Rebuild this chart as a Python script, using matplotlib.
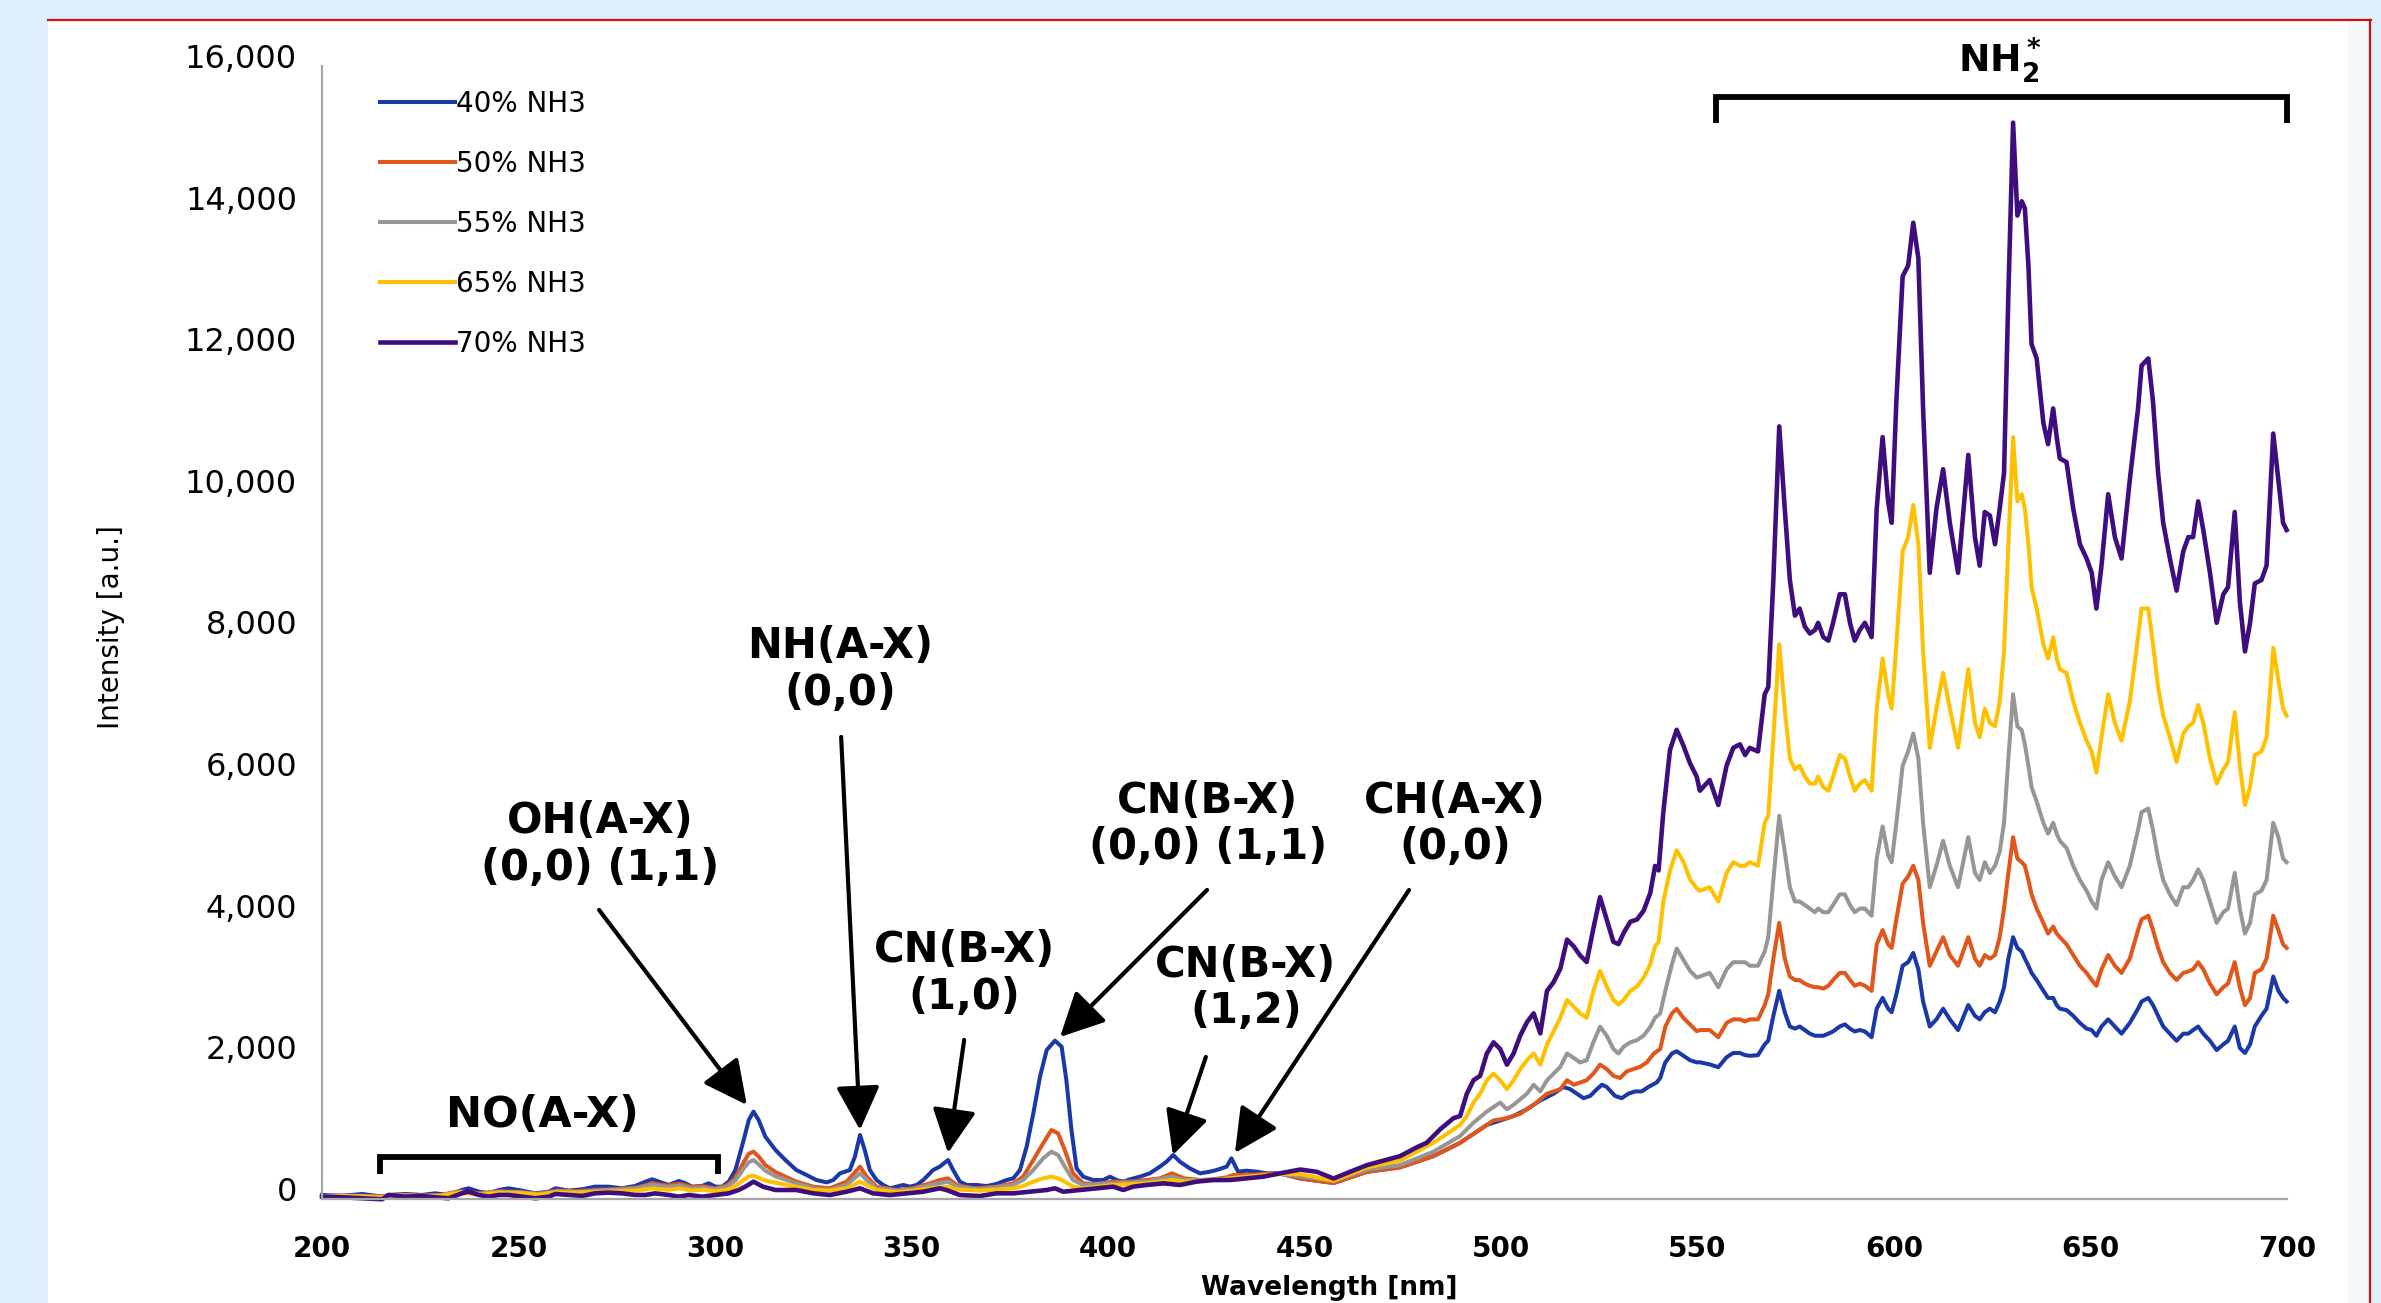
import numpy as np
import matplotlib
matplotlib.use("Agg")
import matplotlib.pyplot as plt
from matplotlib.patches import Rectangle
from matplotlib.lines import Line2D
from matplotlib.transforms import ScaledTranslation

plt.rcParams['font.family'] = ['DejaVu Sans']
plt.rcParams['mathtext.fontset'] = 'dejavusans'

# ---------------- data ----------------
series_labels = ["40% NH3", "50% NH3", "55% NH3", "65% NH3", "70% NH3"]
series_colors = ["#1A38A8", "#E0561B", "#969696", "#FFC000", "#3F0E7E"]

x_ticks = [200, 250, 300, 350, 400, 450, 500, 550, 600, 650, 700]
y_ticks = [0, 2000, 4000, 6000, 8000, 10000, 12000, 14000, 16000]

# 40% NH3 (below 550 nm)
wl_40_low = [200.0, 205.1, 210.2, 215.3, 217.0, 221.2, 225.4, 228.8, 232.2, 235.6, 237.3, 239.9, 242.4, 245.0, 247.5,
             250.9, 254.3, 257.7, 259.4, 262.8, 266.2, 269.5, 272.9, 276.3, 279.7, 282.3, 284.0, 285.7, 288.2, 290.8,
             292.5, 294.1, 296.7, 298.4, 300.1, 301.8, 303.5, 305.2, 307.3, 308.6, 309.8, 311.1, 312.8, 315.4, 317.9,
             320.7, 323.3, 325.8, 328.4, 330.1, 331.8, 334.3, 335.6, 336.9, 338.1, 339.4, 341.1, 342.8, 344.5, 346.2,
             347.9, 349.6, 351.3, 353.0, 355.5, 357.2, 359.3, 360.6, 362.3, 364.0, 366.5, 369.1, 371.6, 374.2, 375.9,
             377.6, 379.3, 381.0, 382.7, 384.4, 386.5, 388.2, 389.4, 390.7, 392.0, 393.7, 396.2, 398.8, 400.5, 402.2,
             403.9, 405.6, 408.1, 410.6, 413.2, 414.9, 416.6, 418.3, 420.8, 423.4, 425.9, 427.6, 430.2, 431.4, 433.1,
             435.2, 437.8, 440.3, 443.7,
             448.9, 457.4, 465.9, 474.3, 482.8, 489.6, 493.0, 496.4, 499.8, 503.2, 506.6, 510.0, 513.4, 515.9, 517.6,
             519.3, 521.0, 522.7, 524.4, 525.7, 526.9, 529.0, 530.7, 532.4, 534.1, 535.8, 537.5, 539.6, 540.5, 541.8,
             543.5, 544.7, 546.4, 548.1, 549.8]
int_40_low = [57, 43, 71, 33, 57, 71, 57, 80, 57, 127, 151, 104, 80, 127, 151,
              118, 80, 104, 151, 118, 137, 174, 174, 151, 184, 245, 278, 245, 198, 254,
              221, 174, 184, 221, 174, 174, 245, 410, 834, 1116, 1234, 1116, 881, 692, 551,
              409, 339, 268, 235, 268, 362, 409, 598, 904, 692, 409, 268, 198, 151, 174,
              198, 174, 198, 268, 409, 457, 551, 409, 245, 198, 198, 183, 212, 268, 292,
              409, 739, 1210, 1728, 2104, 2236, 2151, 1681, 974, 433, 315, 268, 268, 315, 268,
              245, 278, 315, 362, 457, 527, 621, 527, 433, 362, 386, 409, 457, 574, 386,
              400, 386, 362, 362,
              290, 226, 384, 447, 605, 794, 920, 1046, 1109, 1172, 1267, 1393, 1487, 1582, 1551,
              1487, 1424, 1456, 1551, 1614, 1582, 1456, 1424, 1487, 1519, 1519, 1582, 1645, 1708, 1929,
              2055, 2087, 2023, 1960, 1929]

# 50% NH3 (below 550 nm)
wl_50_low = [200, 205, 210, 215, 220, 225, 230, 235, 240, 245, 250, 255, 260, 265, 270, 275, 280, 284, 288, 291,
             294, 297, 300, 303, 305.2, 307.3, 308.6, 309.8, 311.1, 312.8, 315.4,
             320.7, 325.0, 329.2, 333.5, 336.9, 338.6, 341.1, 346.2, 350.4, 354.7, 357.2, 359.3, 361.5, 365.7, 371.6,
             375.9, 378.4, 381.0, 383.5, 385.6, 387.3, 389.0, 391.1, 393.7, 397.1, 401.3, 405.6, 409.8, 413.2, 416.3,
             419.3, 423.4, 426.8, 430.2, 431.9, 435.2, 439.5, 443.7,
             448.9, 457.4, 465.9, 474.3, 482.8, 489.6, 493.0, 496.4, 498.1, 501.5, 504.9, 508.3, 511.7, 515.1, 516.8,
             518.5, 520.1, 521.8, 523.5, 525.2, 526.9, 528.6, 530.3, 532.0, 533.7, 535.4, 537.1, 538.9, 540.5, 541.8,
             543.5, 544.7, 546.4, 548.1, 549.8]
int_50_low = [40, 50, 45, 35, 60, 50, 55, 110, 80, 110, 100, 75, 120, 110, 130, 140, 160, 220, 190, 215,
              170, 180, 150, 190, 300, 520, 640, 669, 600, 480, 380,
              245, 174, 151, 245, 457, 315, 174, 127, 151, 221, 268, 292, 198, 151, 174,
              221, 315, 551, 786, 974, 927, 692, 362, 221, 212, 245, 245, 268, 292, 362,
              292, 268, 278, 306, 339, 339, 353, 362,
              290, 226, 384, 447, 605, 794, 920, 1046, 1109, 1141, 1204, 1330, 1487, 1551, 1677,
              1613, 1645, 1677, 1771, 1897, 1834, 1740, 1708, 1803, 1834, 1866, 1929, 2055, 2118, 2433,
              2622, 2685, 2559, 2464, 2370]

# 55% NH3 (below 550 nm)
wl_55_low = [200, 205, 210, 215, 220, 225, 230, 235, 240, 245, 250, 255, 260, 265, 270, 275, 280, 284, 288, 291,
             294, 297, 300, 303, 305.2, 307.3, 308.6, 309.8, 311.1, 312.8, 315.4,
             320.7, 325.0, 329.2, 333.5, 336.9, 338.6, 341.1, 346.2, 350.4, 354.7, 359.3, 361.5, 367.4, 375.9, 378.4,
             381.0, 383.5, 385.6, 387.3, 389.0, 391.1, 393.7, 401.3, 409.8, 416.3, 419.3, 426.8, 435.2, 443.7,
             448.9, 457.4, 465.9, 474.3, 482.8, 489.6, 493.0, 496.4, 498.1, 499.8, 501.5, 503.2, 506.6, 508.3, 510.0,
             511.7, 513.4, 515.1, 516.8, 518.5, 520.1, 521.8, 523.5, 525.2, 526.9, 528.6, 529.9, 531.2, 532.9, 534.6,
             536.3, 538.0, 539.2, 540.5, 541.8, 543.5, 544.7, 546.4, 548.1, 549.8]
int_55_low = [35, 45, 40, 30, 55, 45, 50, 100, 70, 100, 95, 70, 110, 100, 120, 130, 150, 200, 170, 190,
              150, 160, 140, 170, 260, 430, 520, 550, 490, 400, 320,
              221, 151, 127, 198, 362, 268, 151, 118, 136, 198, 245, 174, 136, 198, 268,
              409, 574, 668, 621, 457, 268, 198, 221, 245, 315, 268, 268, 315, 353,
              321, 258, 416, 479, 668, 889, 1078, 1235, 1298, 1361, 1267, 1330, 1487, 1613, 1519,
              1677, 1771, 1866, 2055, 1992, 1929, 1960, 2213, 2433, 2307, 2118, 2055, 2150, 2213, 2244,
              2307, 2433, 2559, 2622, 2938, 3316, 3537, 3379, 3222, 3127]

# 65% NH3 (below 550 nm)
wl_65_low = [200, 205, 210, 215, 220, 225, 230, 235, 240, 245, 250, 255, 260, 265, 270, 275, 280, 284, 288, 291,
             294, 297, 300, 303, 305.2, 307.3, 308.6, 309.8, 311.1, 312.8, 315.4,
             320.7, 325.0, 329.2, 333.5, 336.9, 338.6, 341.1, 346.2, 350.4, 354.7, 359.3, 361.5, 367.4, 375.9, 378.4,
             381.0, 383.5, 385.6, 387.3, 389.0, 391.1, 393.7, 401.3, 409.8, 416.3, 419.3, 426.8, 435.2, 443.7,
             448.9, 457.4, 465.9, 474.3, 478.6, 482.8, 486.2, 489.6, 491.3, 493.0, 494.7, 496.4, 498.1, 499.8, 501.5,
             503.2, 504.9, 506.6, 508.3, 510.0, 511.7, 513.4, 515.1, 516.8, 518.5, 520.1, 521.8, 523.5, 525.2, 526.9,
             528.6, 529.9, 531.2, 532.9, 534.6, 536.3, 538.0, 539.2, 540.1, 541.3, 543.0, 544.7, 546.4, 548.1, 549.8]
int_65_low = [30, 40, 35, 25, 50, 40, 45, 90, 60, 90, 85, 60, 95, 90, 100, 110, 120, 150, 130, 150,
              120, 130, 110, 130, 180, 270, 320, 330, 300, 260, 230,
              174, 127, 118, 151, 245, 198, 127, 99, 118, 151, 174, 136, 118, 151, 183,
              245, 292, 315, 292, 245, 174, 151, 198, 221, 268, 245, 268, 315, 353,
              353, 258, 447, 542, 668, 794, 920, 1046, 1172, 1361, 1487, 1677, 1771, 1677, 1551,
              1677, 1834, 1960, 2055, 1897, 2181, 2370, 2559, 2811, 2717, 2622, 2559, 2938, 3221, 3001,
              2811, 2748, 2811, 2938, 3001, 3127, 3316, 3568, 3631, 4199, 4640, 4924, 4766, 4514, 4388]

# 70% NH3 (below 550 nm)
wl_70_low = [200.0, 205.1, 210.2, 215.3, 217.0, 221.2, 225.4, 228.8, 232.2, 235.6, 237.3, 239.9, 242.4, 245.0, 247.5,
             250.9, 254.3, 257.7, 259.4, 262.8, 266.2, 269.5, 272.9, 276.3, 279.7, 282.3, 284.8, 288.2, 290.8, 293.3,
             296.7, 300.1, 303.5, 306.0, 307.7, 309.8, 312.2, 315.4,
             320.7, 325.0, 329.2, 333.5, 336.9, 340.2, 344.5, 348.7, 353.0, 357.2, 358.9, 362.3, 367.4, 371.6, 375.9,
             380.1, 384.4, 386.5, 388.6, 392.8, 397.1, 401.3, 403.9, 406.4, 409.8, 414.1, 418.3, 422.5, 426.8, 431.0,
             435.2, 439.5, 443.7,
             448.9, 453.1, 457.4, 461.6, 465.9, 470.1, 474.3, 478.6, 481.1, 484.5, 487.9, 489.6, 491.3, 493.0, 494.7,
             496.4, 498.1, 499.8, 501.5, 503.2, 504.9, 506.6, 508.3, 510.0, 511.7, 513.4, 515.1, 516.8, 518.5, 520.1,
             521.8, 523.5, 525.2, 526.9, 528.6, 529.9, 531.2, 532.9, 534.6, 536.3, 538.0, 539.2, 540.1, 541.3, 543.0,
             544.7, 546.4, 548.1, 549.8]
int_70_low = [33, 24, 10, -4, 57, 33, 43, 24, 10, 80, 104, 57, 33, 57, 57,
              33, 10, 33, 71, 57, 43, 80, 90, 80, 57, 57, 80, 57, 33, 57,
              33, 57, 80, 127, 174, 245, 174, 127,
              127, 80, 56, 103, 151, 80, 56, 80, 103, 151, 127, 56, 42, 80, 80,
              103, 127, 151, 103, 127, 151, 174, 127, 174, 198, 221, 198, 245, 268, 268,
              292, 315, 362,
              416, 384, 289, 384, 479, 542, 605, 731, 794, 983, 1141, 1172, 1487, 1677, 1740,
              2055, 2213, 2118, 1897, 2055, 2307, 2496, 2622, 2339, 2938, 3064, 3253, 3663, 3568, 3442,
              3347, 3820, 4262, 3946, 3631, 3600, 3757, 3915, 3946, 4072, 4325, 4703, 4640, 5460, 6342,
              6626, 6405, 6153, 5964]

# NH2* band region (550-700 nm), common wavelength grid
wl_high = [550.6, 553.1, 555.3, 557.4, 559.1, 560.8, 562.1, 563.3, 565.4, 567.1, 568.0, 569.3, 570.8, 572.2, 573.5,
           574.8, 576.0, 577.3, 578.6, 579.9, 580.7, 582.0, 583.3, 584.5, 586.2, 587.5, 588.8, 590.0, 591.3, 592.6,
           594.3, 595.6, 597.1, 598.5, 599.4, 600.6, 602.2, 603.6, 604.9, 606.2, 607.4, 609.1, 610.8, 612.5, 614.2,
           616.3, 618.9, 620.6, 621.8, 623.1,
           624.4, 625.7, 626.9, 628.0, 629.1, 630.3, 631.4, 632.5, 633.3, 634.2, 635.0, 636.3, 638.0, 639.2, 640.5,
           641.4, 642.2, 643.9, 645.6, 647.3, 649.0, 650.3, 651.5, 652.8, 654.5, 656.2, 657.9, 660.0, 662.1, 663.0,
           664.7, 665.9, 667.2, 668.5, 670.2, 671.9, 673.6, 674.9, 676.1, 677.4, 678.7, 680.4, 682.1, 683.8, 685.0,
           686.7, 688.0, 689.3, 690.6, 691.8, 693.5, 694.8, 696.5, 697.8, 699.0, 699.9]
int_40_high = [1931, 1901, 1861, 2002, 2062, 2062, 2032, 2022, 2032, 2184, 2234, 2587, 2940, 2638, 2436,
               2406, 2436, 2386, 2335, 2305, 2305, 2305, 2335, 2366, 2436, 2466, 2406, 2366, 2386, 2366,
               2285, 2688, 2840, 2688, 2638, 2890, 3294, 3344, 3475, 3243, 2789, 2436, 2537, 2688, 2537,
               2386, 2739, 2587, 2537, 2638,
               2688, 2637, 2789, 2991, 3394, 3697, 3546, 3495, 3394, 3294, 3193, 3092, 2941, 2839, 2839,
               2738, 2688, 2668, 2587, 2486, 2406, 2386, 2305, 2436, 2537, 2436, 2335, 2486, 2688, 2789,
               2839, 2738, 2587, 2436, 2335, 2234, 2335, 2335, 2386, 2436, 2335, 2234, 2103, 2184, 2234,
               2436, 2133, 2062, 2184, 2436, 2587, 2688, 3142, 2941, 2839, 2789]
int_50_high = [2386, 2386, 2285, 2487, 2537, 2537, 2507, 2537, 2537, 2739, 2890, 3394, 3899, 3394, 3142,
               3092, 3092, 3041, 3011, 2991, 2991, 2971, 3011, 3092, 3193, 3193, 3092, 3011, 3041, 3011,
               2940, 3596, 3798, 3596, 3546, 3949, 4454, 4555, 4706, 4504, 3899, 3294, 3495, 3697, 3445,
               3294, 3697, 3394, 3294, 3445,
               3394, 3445, 3697, 4101, 4605, 5110, 4807, 4756, 4706, 4504, 4302, 4101, 3899, 3748, 3848,
               3748, 3697, 3596, 3445, 3294, 3193, 3092, 3011, 3243, 3445, 3294, 3193, 3394, 3798, 3949,
               4000, 3798, 3546, 3344, 3193, 3092, 3193, 3213, 3243, 3344, 3243, 3042, 2890, 2991, 3042,
               3344, 2991, 2738, 2839, 3193, 3243, 3394, 4000, 3798, 3596, 3546]
int_55_high = [3142, 3193, 2991, 3243, 3344, 3344, 3344, 3294, 3294, 3495, 3697, 4504, 5412, 4908, 4403,
               4201, 4201, 4151, 4101, 4050, 4101, 4050, 4050, 4151, 4302, 4302, 4151, 4050, 4101, 4101,
               4000, 4807, 5261, 4857, 4756, 5312, 6119, 6321, 6573, 6220, 5312, 4403, 4706, 5059, 4706,
               4403, 5110, 4605, 4504, 4756,
               4605, 4706, 4908, 5312, 6220, 7128, 6674, 6623, 6421, 6119, 5816, 5614, 5312, 5160, 5312,
               5160, 5059, 4958, 4706, 4504, 4353, 4201, 4101, 4504, 4756, 4555, 4403, 4706, 5211, 5463,
               5513, 5211, 4807, 4504, 4302, 4151, 4403, 4403, 4504, 4655, 4504, 4201, 3899, 4050, 4101,
               4605, 4101, 3748, 3899, 4302, 4353, 4504, 5312, 5110, 4807, 4756]
int_65_high = [4353, 4403, 4201, 4605, 4756, 4706, 4706, 4756, 4706, 5312, 5412, 6522, 7834, 6926, 6220,
               6068, 6119, 5967, 5866, 5866, 5967, 5816, 5766, 5967, 6270, 6220, 5967, 5766, 5866, 5917,
               5766, 6926, 7632, 7128, 6926, 7834, 9146, 9348, 9801, 9247, 7733, 6371, 6926, 7430, 6926,
               6371, 7481, 6724, 6522, 6926,
               6724, 6674, 7027, 7733, 9247, 10760, 9852, 9953, 9751, 9247, 8641, 8339, 7834, 7632, 7935,
               7632, 7481, 7430, 7027, 6724, 6472, 6320, 6018, 6522, 7128, 6724, 6472, 7027, 7935, 8339,
               8339, 7834, 7229, 6825, 6522, 6169, 6573, 6674, 6724, 6976, 6724, 6220, 5866, 6068, 6169,
               6876, 6119, 5564, 5816, 6270, 6320, 6522, 7784, 7329, 6926, 6825]
int_70_high = [5766, 5917, 5564, 6119, 6371, 6421, 6270, 6371, 6320, 7128, 7228, 8742, 10911, 9751, 8742,
               8238, 8338, 8086, 7985, 8036, 8137, 7935, 7885, 8137, 8540, 8540, 8137, 7885, 8036, 8137,
               7935, 9751, 10760, 9852, 9549, 11265, 13030, 13182, 13787, 13283, 11164, 8843, 9751, 10306, 9549,
               8843, 10508, 9347, 8944, 9701,
               9650, 9247, 9751, 10256, 12778, 15200, 13888, 14090, 13989, 13182, 12072, 11870, 10962, 10659, 11164,
               10760, 10457, 10407, 9751, 9247, 9045, 8843, 8338, 8944, 9953, 9347, 9045, 10155, 11164, 11769,
               11870, 11265, 10256, 9549, 9045, 8591, 9146, 9347, 9347, 9852, 9449, 8843, 8137, 8540, 8641,
               9701, 8439, 7733, 8137, 8692, 8742, 8944, 10810, 10155, 9549, 9448]

# annotations: text, text position (nm, intensity), arrow tip, arrow tail
ann_texts = ["OH(A-X)\n(0,0) (1,1)", "NH(A-X)\n(0,0)", "CN(B-X)\n(1,0)",
             "CN(B-X)\n(0,0) (1,1)", "CN(B-X)\n(1,2)", "CH(A-X)\n(0,0)"]
ann_text_xy = [(270.7, 5000), (331.8, 7472), (363.4, 3178), (425.4, 5296), (435.1, 2980), (488.3, 5296)]
ann_tip_xy = [(308.1, 1328), (336.9, 975), (359.3, 650), (387.8, 2288), (416.5, 621), (432.3, 650)]
ann_tail_xy = [(270.5, 4082), (332.1, 6525), (363.4, 2246), (425.2, 4364), (424.9, 2006), (476.6, 4364)]

no_bracket = (214.8, 300.8, 593, 353)       # x0, x1, top, tick-end
nh2_bracket = (554.7, 700.0, 15565, 15198)

# ---------------- figure ----------------
W, H = 2381, 1303
fig = plt.figure(figsize=(W / 100, H / 100), dpi=100)
fig.patch.set_facecolor("#DCEFFA")

fig.add_artist(Rectangle((48 / W, 0), (2370 - 48) / W, (H - 20) / H, transform=fig.transFigure,
                         facecolor="white", edgecolor="none", zorder=0))
fig.add_artist(Rectangle((2348 / W, 0), (2370 - 2348) / W, (H - 22) / H, transform=fig.transFigure,
                         facecolor="#F6F9FB", edgecolor="none", zorder=0.5))
fig.add_artist(Line2D([48 / W, 2371 / W], [1 - 20 / H, 1 - 20 / H], transform=fig.transFigure,
                      color="#D01010", lw=1.6, zorder=1))
fig.add_artist(Line2D([2370 / W, 2370 / W], [0, 1 - 20 / H], transform=fig.transFigure,
                      color="#D01010", lw=1.6, zorder=1))

ax = fig.add_axes([322 / W, 1 - 1199 / H, (2287 - 322) / W, (1199 - 66) / H])
ax.set_facecolor("none")

low_wl = [wl_40_low, wl_50_low, wl_55_low, wl_65_low, wl_70_low]
low_int = [int_40_low, int_50_low, int_55_low, int_65_low, int_70_low]
high_int = [int_40_high, int_50_high, int_55_high, int_65_high, int_70_high]
line_widths = [2.9, 2.9, 2.9, 2.9, 3.3]

handles = []
for wl_l, i_l, i_h, col, lab, lw in zip(low_wl, low_int, high_int, series_colors, series_labels, line_widths):
    x = np.concatenate([wl_l, wl_high])
    y = np.concatenate([i_l, i_h])
    ln, = ax.plot(x, y, color=col, lw=lw, label=lab, clip_on=False, solid_joinstyle="round")
    handles.append(ln)

ax.set_xlim(200, 700)
ax.set_ylim(0, 16000)
for s in ["top", "right"]:
    ax.spines[s].set_visible(False)
for s in ["left", "bottom"]:
    ax.spines[s].set_color("#A6A6A6")
    ax.spines[s].set_linewidth(1.6)

ax.set_xticks(x_ticks, labels=[str(v) for v in x_ticks], fontsize=20, fontweight="bold")
ax.set_yticks(y_ticks, labels=[f"{v:,}" for v in y_ticks], fontsize=23)
ax.tick_params(axis="both", length=0)
ax.tick_params(axis="y", pad=18)
ax.tick_params(axis="x", pad=26)
for lbl in ax.get_yticklabels():
    lbl.set_transform(lbl.get_transform() + ScaledTranslation(0, 10 / 100, fig.dpi_scale_trans))

fig.text(111 / W, 1 - 627 / H, "Intensity [a.u.]", rotation=90, ha="center", va="center", fontsize=20)
fig.text(1329 / W, 1 - 1301 / H, "Wavelength [nm]", ha="center", va="bottom", fontsize=19, fontweight="bold")

leg = ax.legend(handles=handles, loc="upper left", bbox_to_anchor=(380 / W, 1 - 90 / H),
                bbox_transform=fig.transFigure, frameon=False, fontsize=20, handlelength=2.7,
                handletextpad=0.05, labelspacing=1.15, borderpad=0, borderaxespad=0)

# annotations with arrows
for txt, txy, tip, tail in zip(ann_texts, ann_text_xy, ann_tip_xy, ann_tail_xy):
    ax.text(txy[0], txy[1], txt, ha="center", va="center", fontsize=30, fontweight="bold",
            linespacing=1.15, multialignment="center")
    ax.annotate("", xy=tip, xytext=tail,
                arrowprops=dict(arrowstyle="-|>,head_length=0.9,head_width=0.45", color="black",
                                lw=3.0, shrinkA=0, shrinkB=0, mutation_scale=30))

# brackets
x0, x1, ytop, yend = no_bracket
ax.plot([x0, x0, x1, x1], [yend, ytop, ytop, yend], color="black", lw=4.2, solid_joinstyle="miter",
        solid_capstyle="butt")
ax.text(256.0, 1186, "NO(A-X)", ha="center", va="center", fontsize=31, fontweight="bold")

x0, x1, ytop, yend = nh2_bracket
ax.plot([x0, x0, x1, x1], [yend, ytop, ytop, yend], color="black", lw=4.2, solid_joinstyle="miter",
        solid_capstyle="butt", clip_on=False)
ax.text(627.0, 16073, r"$\mathbf{NH_2^*}$", ha="center", va="center", fontsize=27, clip_on=False)

fig.savefig("out.png", dpi=100, facecolor=fig.get_facecolor())
